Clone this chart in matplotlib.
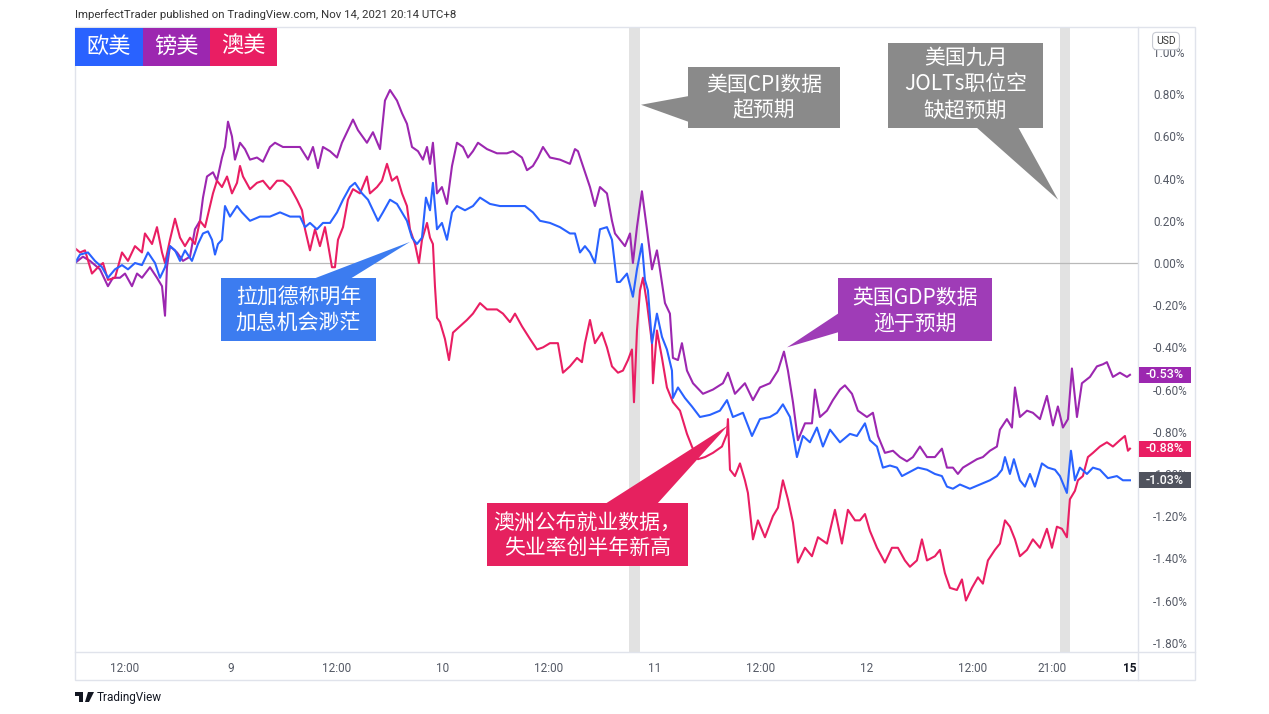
import numpy as np
import matplotlib
matplotlib.use('Agg')
import matplotlib.pyplot as plt
from matplotlib.patches import Rectangle, Polygon
from matplotlib.lines import Line2D

# hours since Nov 8 00:00 (UTC+8), percent change
eurusd = [(6.34,0.00),(6.91,0.04),(7.81,0.05),(8.6,0.01),(9.4,-0.02),(10.07,-0.07),(10.87,-0.03),(11.66,-0.01),(12.34,-0.03),(13.13,0.00),(13.92,-0.01),(14.6,0.05),(15.4,0.00),(15.96,-0.07),(16.53,-0.02),(17.09,0.08),(17.66,0.06),(18.23,0.01),(18.79,0.06),(19.58,0.01),(20.26,0.09),(20.83,0.14),(21.39,0.15),(21.85,0.11),(22.19,0.04),(22.53,0.09),(22.98,0.11),(23.32,0.27),(23.89,0.22),(24.68,0.27),(25.24,0.24),(26.15,0.20),(27.28,0.22),(28.41,0.22),(29.55,0.24),(30.68,0.22),(31.81,0.22),(32.38,0.17),(32.94,0.19),(33.73,0.16),(34.41,0.19),(35.21,0.19),(36.0,0.24),(36.68,0.30),(37.47,0.36),(38.04,0.38),(38.83,0.33),(39.51,0.30),(40.07,0.25),(40.64,0.20),(41.2,0.24),(42.0,0.30),(42.79,0.28),(43.36,0.24),(43.92,0.20),(44.49,0.12),(45.05,0.09),(45.62,0.12),(46.07,0.31),(46.53,0.25),(46.86,0.38),(47.32,0.16),(47.88,0.19),(48.45,0.11),(49.02,0.24),(49.58,0.27),(50.49,0.25),(51.39,0.27),(52.19,0.31),(53.32,0.28),(54.45,0.27),(55.92,0.27),(57.28,0.27),(58.18,0.24),(58.98,0.20),(60.11,0.19),(61.24,0.17),(62.37,0.14),(62.94,0.14),(63.51,0.05),(64.07,0.08),(64.64,0.05),(65.2,0.00),(65.77,0.16),(66.56,0.17),(67.13,0.11),(67.69,-0.09),(68.03,-0.09),(68.83,-0.05),(69.5,-0.16),(69.96,-0.03),(70.52,0.09),(70.86,-0.08),(71.2,-0.13),(71.66,-0.38),(72.22,-0.24),(72.79,-0.35),(73.35,-0.41),(73.92,-0.51),(74.03,-0.64),(74.6,-0.59),(75.39,-0.64),(76.18,-0.68),(77.09,-0.73),(78.22,-0.72),(79.35,-0.70),(80.15,-0.65),(80.82,-0.73),(81.96,-0.71),(82.98,-0.82),(83.88,-0.74),(85.01,-0.73),(85.81,-0.71),(86.48,-0.67),(87.28,-0.73),(88.07,-0.92),(88.75,-0.82),(89.54,-0.85),(90.33,-0.78),(91.01,-0.87),(91.81,-0.79),(92.94,-0.85),(94.07,-0.81),(94.86,-0.82),(95.77,-0.76),(96.33,-0.84),(97.13,-0.87),(97.8,-0.97),(98.6,-0.96),(99.39,-0.97),(99.96,-1.01),(100.86,-0.99),(101.77,-0.97),(102.79,-0.98),(103.69,-1.00),(104.48,-1.01),(105.05,-1.06),(105.73,-1.07),(106.52,-1.05),(107.65,-1.07),(108.79,-1.05),(109.92,-1.03),(110.71,-1.01),(111.28,-0.98),(111.62,-0.92),(112.18,-1.00),(112.63,-0.93),(113.31,-1.03),(113.88,-1.06),(114.45,-1.00),(115.01,-1.06),(115.8,-0.95),(116.48,-0.97),(117.28,-0.98),(117.84,-1.01),(118.63,-1.09),(119.09,-0.89),(119.54,-1.03),(120.1,-0.97),(120.9,-1.00),(121.58,-0.97),(122.37,-0.98),(123.27,-1.02),(124.29,-1.01),(124.97,-1.03),(125.77,-1.03)]

gbpusd = [(6.34,0.00),(7.24,0.03),(8.04,0.01),(9.17,-0.03),(10.07,-0.11),(10.64,-0.07),(11.43,-0.07),(12.0,-0.05),(12.79,-0.11),(13.36,-0.05),(13.92,-0.07),(14.83,-0.02),(15.62,-0.07),(16.19,-0.11),(16.53,-0.25),(16.75,-0.02),(17.09,0.08),(17.89,0.05),(18.56,0.01),(19.36,0.03),(19.92,0.16),(20.49,0.20),(20.83,0.31),(21.28,0.41),(21.96,0.43),(22.41,0.39),(22.98,0.50),(23.32,0.55),(23.66,0.67),(24.11,0.60),(24.45,0.49),(25.02,0.57),(25.58,0.54),(26.15,0.49),(26.94,0.50),(27.62,0.48),(28.41,0.55),(28.98,0.57),(29.88,0.55),(30.68,0.55),(31.81,0.55),(32.71,0.49),(33.28,0.55),(33.85,0.45),(34.41,0.55),(35.21,0.53),(36.0,0.50),(36.56,0.57),(37.13,0.62),(37.81,0.68),(38.37,0.63),(39.39,0.57),(40.07,0.62),(40.87,0.54),(41.43,0.77),(42.0,0.82),(42.79,0.77),(43.36,0.71),(43.92,0.66),(44.49,0.55),(45.17,0.53),(45.73,0.49),(46.19,0.55),(46.53,0.47),(46.86,0.57),(47.32,0.33),(47.88,0.36),(48.45,0.28),(49.02,0.46),(49.58,0.57),(50.26,0.55),(50.83,0.50),(51.39,0.53),(51.96,0.57),(52.98,0.54),(54.11,0.52),(55.24,0.52),(55.92,0.53),(56.94,0.50),(57.51,0.44),(58.18,0.46),(58.75,0.50),(59.32,0.55),(60.11,0.50),(61.24,0.49),(62.37,0.47),(62.94,0.54),(63.28,0.53),(63.84,0.46),(64.64,0.36),(65.2,0.27),(65.77,0.36),(66.56,0.33),(67.13,0.20),(67.47,0.14),(68.03,0.11),(68.6,0.08),(69.17,0.14),(69.5,0.00),(69.96,0.17),(70.52,0.34),(71.09,0.16),(71.66,-0.03),(72.22,0.06),(72.56,-0.03),(73.13,-0.19),(73.69,-0.24),(74.03,-0.45),(74.6,-0.46),(75.05,-0.38),(75.62,-0.51),(76.3,-0.57),(77.43,-0.62),(78.56,-0.60),(79.69,-0.57),(80.26,-0.52),(81.05,-0.62),(82.18,-0.57),(83.09,-0.65),(83.88,-0.59),(85.01,-0.57),(85.92,-0.51),(86.6,-0.42),(87.05,-0.51),(87.62,-0.66),(88.18,-0.84),(88.98,-0.76),(89.77,-0.76),(90.11,-0.60),(90.67,-0.73),(91.47,-0.70),(92.14,-0.65),(92.94,-0.60),(93.5,-0.58),(94.3,-0.62),(94.97,-0.70),(95.99,-0.73),(96.67,-0.71),(97.24,-0.82),(98.03,-0.90),(98.94,-0.89),(99.73,-0.92),(100.52,-0.94),(101.2,-0.92),(101.99,-0.87),(102.79,-0.92),(103.69,-0.92),(104.48,-0.88),(105.05,-0.97),(105.73,-0.97),(106.29,-1.00),(106.86,-0.97),(107.65,-0.95),(108.45,-0.93),(109.12,-0.92),(109.92,-0.89),(110.71,-0.87),(111.05,-0.79),(111.84,-0.74),(112.41,-0.78),(112.75,-0.59),(113.31,-0.73),(114.11,-0.70),(114.78,-0.71),(115.58,-0.74),(116.37,-0.63),(117.05,-0.77),(117.61,-0.68),(118.18,-0.78),(118.75,-0.74),(119.2,-0.50),(119.77,-0.73),(120.33,-0.57),(121.24,-0.54),(122.03,-0.49),(122.71,-0.48),(123.16,-0.47),(123.84,-0.54),(124.63,-0.52),(125.43,-0.54),(125.77,-0.53)]

audusd = [(6.34,0.07),(6.91,0.05),(7.47,0.06),(8.26,-0.05),(8.94,-0.02),(9.51,0.00),(10.07,-0.08),(10.87,-0.07),(11.66,0.05),(12.34,0.01),(13.13,0.08),(13.92,0.05),(14.26,0.14),(15.06,0.09),(15.62,0.17),(16.19,0.05),(16.53,0.00),(17.09,0.11),(17.66,0.21),(18.23,0.12),(18.79,0.08),(19.36,0.12),(19.92,0.09),(20.49,0.20),(21.06,0.17),(21.62,0.27),(21.96,0.33),(22.41,0.39),(22.98,0.36),(23.55,0.41),(24.11,0.33),(24.68,0.38),(25.02,0.46),(25.36,0.41),(26.15,0.35),(26.94,0.38),(27.62,0.39),(28.41,0.35),(29.21,0.39),(29.88,0.39),(30.68,0.36),(31.47,0.30),(32.04,0.25),(32.38,0.16),(32.94,0.06),(33.51,0.16),(34.07,0.08),(34.64,0.17),(34.98,0.09),(35.43,-0.02),(35.77,-0.02),(36.11,0.11),(36.68,0.17),(37.24,0.30),(37.81,0.35),(38.6,0.33),(39.39,0.41),(39.73,0.33),(40.53,0.36),(41.09,0.39),(41.66,0.47),(42.22,0.39),(42.79,0.41),(43.36,0.33),(43.92,0.27),(44.26,0.16),(44.83,0.09),(45.28,0.00),(45.62,0.11),(46.19,0.19),(46.53,0.12),(46.86,0.09),(47.09,-0.11),(47.32,-0.26),(47.66,-0.28),(48.22,-0.36),(48.68,-0.46),(49.13,-0.33),(49.92,-0.30),(50.71,-0.27),(51.39,-0.24),(52.19,-0.19),(52.98,-0.22),(54.11,-0.22),(54.79,-0.24),(55.58,-0.28),(56.15,-0.24),(56.94,-0.30),(57.85,-0.36),(58.64,-0.41),(59.32,-0.40),(60.11,-0.38),(61.01,-0.38),(61.58,-0.52),(62.37,-0.49),(63.17,-0.45),(63.73,-0.47),(64.07,-0.38),(64.64,-0.27),(65.2,-0.38),(65.99,-0.33),(66.56,-0.40),(67.13,-0.49),(67.81,-0.52),(68.37,-0.51),(68.94,-0.46),(69.39,-0.41),(69.62,-0.66),(69.96,-0.32),(70.3,-0.13),(70.64,-0.07),(71.09,-0.19),(71.66,-0.38),(71.77,-0.57),(72.22,-0.32),(72.79,-0.45),(73.35,-0.59),(74.03,-0.66),(74.83,-0.70),(75.62,-0.81),(76.18,-0.87),(76.86,-0.93),(77.66,-0.92),(78.56,-0.90),(79.58,-0.87),(80.15,-0.81),(80.26,-0.74),(80.49,-0.98),(81.05,-1.01),(81.62,-0.95),(82.18,-1.03),(82.52,-1.09),(83.09,-1.31),(83.65,-1.22),(84.45,-1.30),(85.35,-1.20),(85.92,-1.16),(86.48,-1.03),(87.05,-1.12),(87.62,-1.23),(88.18,-1.42),(88.98,-1.35),(89.77,-1.39),(90.45,-1.30),(91.47,-1.33),(92.37,-1.17),(93.16,-1.33),(93.84,-1.17),(94.64,-1.22),(95.2,-1.22),(95.77,-1.19),(96.33,-1.27),(97.13,-1.35),(98.03,-1.42),(98.82,-1.35),(99.5,-1.35),(100.29,-1.41),(100.86,-1.44),(101.65,-1.41),(102.22,-1.31),(102.79,-1.41),(103.69,-1.39),(104.26,-1.36),(104.82,-1.47),(105.39,-1.54),(106.18,-1.55),(106.75,-1.50),(107.2,-1.60),(107.88,-1.54),(108.56,-1.49),(109.12,-1.52),(109.69,-1.41),(110.48,-1.36),(111.05,-1.33),(111.62,-1.22),(112.18,-1.25),(112.75,-1.31),(113.31,-1.39),(114.11,-1.36),(114.78,-1.31),(115.58,-1.35),(116.37,-1.26),(116.94,-1.35),(117.5,-1.25),(118.07,-1.26),(118.63,-1.30),(118.97,-1.12),(119.54,-1.08),(119.88,-1.03),(120.44,-1.01),(121.01,-0.92),(121.58,-0.90),(122.37,-0.87),(123.16,-0.85),(123.84,-0.87),(124.63,-0.84),(125.2,-0.82),(125.54,-0.89),(125.77,-0.88)]

series_names = ['欧美', '镑美', '澳美']
line_colors = ['#2962ff', '#9c27b0', '#e91e63']
tag_colors = ['#50535e', '#9c27b0', '#e91e63']

x_ticks = [12, 24, 36, 48, 60, 72, 84, 96, 108, 117, 125.77]
x_labels = ['12:00', '9', '12:00', '10', '12:00', '11', '12:00', '12', '12:00', '21:00', '15']
y_ticks = np.round(np.arange(-1.8, 1.01, 0.2), 2)

event_bands = [(69.06, 70.3), (117.85, 118.98)]   # US CPI, JOLTs

header = 'ImperfectTrader published on TradingView.com, Nov 14, 2021 20:14 UTC+8'

plt.rcParams['font.family'] = ['Roboto', 'Noto Sans CJK SC', 'DejaVu Sans']
CJK = ['Noto Sans CJK SC', 'DejaVu Sans']

W, H = 1269, 714


def fx(x):
    return x / W


def fy(y):
    return 1 - y / H


def pct(v):
    return '%.2f%%' % (0.0 if abs(v) < 1e-9 else v)


fig = plt.figure(figsize=(W / 100, H / 100), dpi=100)
ax = fig.add_axes([fx(75), fy(652), (1138 - 75) / W, (652 - 28) / H])
for s in ax.spines.values():
    s.set_visible(False)

for b in event_bands:
    ax.axvspan(b[0], b[1], color='#e2e2e2', lw=0, zorder=0)
ax.axhline(0, color='#b9b9b9', lw=0.9, zorder=1)

data = [eurusd, gbpusd, audusd]
for i in [1, 2, 0]:
    t, v = zip(*data[i])
    ax.plot(t, v, color=line_colors[i], lw=1.5, zorder=3)

ax.set_xlim(6.34, 126.68)
ax.set_ylim(-1.844, 1.114)

ax.yaxis.tick_right()
ax.set_yticks(y_ticks)
ax.set_yticklabels([pct(v) for v in y_ticks])
ax.tick_params(axis='y', length=0, pad=11, labelsize=8.5, labelcolor='#555a66')
ax.set_xticks(x_ticks)
ax.set_xticklabels(x_labels)
ax.tick_params(axis='x', length=0, pad=7, labelsize=8.5, labelcolor='#555a66')
last = ax.get_xticklabels()[-1]
last.set_fontweight('bold')
last.set_color('#131722')

# chart frame
frame_c = '#e0e3eb'
fig.add_artist(Rectangle((fx(75), fy(680)), (1195 - 75) / W, (680 - 27) / H,
                         transform=fig.transFigure, fill=False, ec=frame_c, lw=1))
fig.add_artist(Line2D([fx(1138), fx(1138)], [fy(27), fy(680)], transform=fig.transFigure, color=frame_c, lw=1))
fig.add_artist(Line2D([fx(75), fx(1195)], [fy(652), fy(652)], transform=fig.transFigure, color=frame_c, lw=1))

fig.text(fx(75), fy(15), header, ha='left', va='center', fontsize=8.2, color='#333333')

# USD badge
fig.text(fx(1166), fy(41), 'USD', ha='center', va='center', fontsize=7.5, color='#333333', zorder=7,
         bbox=dict(boxstyle='round,pad=0.35,rounding_size=0.4', fc='white', ec='#c8cbd3', lw=0.8))

# last value tags
for i in range(3):
    t_end, v_end = data[i][-1]
    ty = ax.transData.transform((t_end, v_end))[1] / H
    fig.add_artist(Rectangle((fx(1139), ty - 8 / H), 52 / W, 16 / H, transform=fig.transFigure,
                             fc=tag_colors[i], ec='none', zorder=6))
    fig.text(fx(1165), ty, pct(v_end), ha='center', va='center', fontsize=9, fontweight='medium',
             color='white', zorder=7)

# legend blocks
legend_x = [75, 143, 210, 277]
for i in range(3):
    fig.add_artist(Rectangle((fx(legend_x[i]), fy(66)), (legend_x[i + 1] - legend_x[i]) / W, 38 / H,
                             transform=fig.transFigure, fc=line_colors[i], ec='none', zorder=6))
    fig.text(fx((legend_x[i] + legend_x[i + 1]) / 2), fy(46), series_names[i], ha='center', va='center',
             fontsize=16, color='white', family=CJK, zorder=7)


def callout(box, base, tip, color, lines, line_ys):
    x0, y0, x1, y1 = box
    fig.add_artist(Rectangle((fx(x0), fy(y1)), (x1 - x0) / W, (y1 - y0) / H, transform=fig.transFigure,
                             fc=color, ec='none', zorder=5))
    tx, ty = ax.transData.transform(tip)
    pts = [(fx(base[0][0]), fy(base[0][1])), (fx(base[1][0]), fy(base[1][1])), (tx / W, ty / H)]
    fig.add_artist(Polygon(pts, closed=True, transform=fig.transFigure, fc=color, ec='none', zorder=5))
    for s, yy in zip(lines, line_ys):
        fig.text(fx((x0 + x1) / 2), fy(yy), s, ha='center', va='center', color='white',
                 fontsize=15, family=CJK, fontweight='medium', zorder=6)


callout((221, 278, 376, 341), [(313, 279), (350, 279)], (44.26, 0.10), '#3c7cf0',
        ['拉加德称明年', '加息机会渺茫'], [298, 324])
callout((688, 67, 840, 128), [(689, 96), (689, 122)], (70.42, 0.75), '#8a8a8a',
        ['美国CPI数据', '超预期'], [85, 110])
callout((888, 43, 1043, 128), [(976, 127), (1018, 127)], (117.63, 0.30), '#8a8a8a',
        ['美国九月', 'JOLTs职位空', '缺超预期'], [58, 84, 111])
callout((838, 278, 992, 341), [(839, 313), (839, 332)], (86.95, -0.40), '#9f3cb7',
        ['英国GDP数据', '逊于预期'], [298, 324])
callout((487, 503, 688, 566), [(605, 504), (657, 504)], (80.27, -0.77), '#e6215f',
        ['澳洲公布就业数据，', '失业率创半年新高'], [523, 548])

# TradingView footer
fig.add_artist(Rectangle((fx(75), fy(696)), 8 / W, 4 / H, transform=fig.transFigure, fc='#131722', ec='none'))
fig.add_artist(Rectangle((fx(79), fy(702)), 4 / W, 10 / H, transform=fig.transFigure, fc='#131722', ec='none'))
fig.add_artist(Polygon([(fx(88), fy(692)), (fx(94), fy(692)), (fx(89), fy(702)), (fx(85), fy(702))],
                       transform=fig.transFigure, fc='#131722', ec='none'))
fig.text(fx(97), fy(697), 'TradingView', ha='left', va='center', fontsize=8.5, color='#131722')

fig.savefig('out.png', dpi=100, facecolor='white')
